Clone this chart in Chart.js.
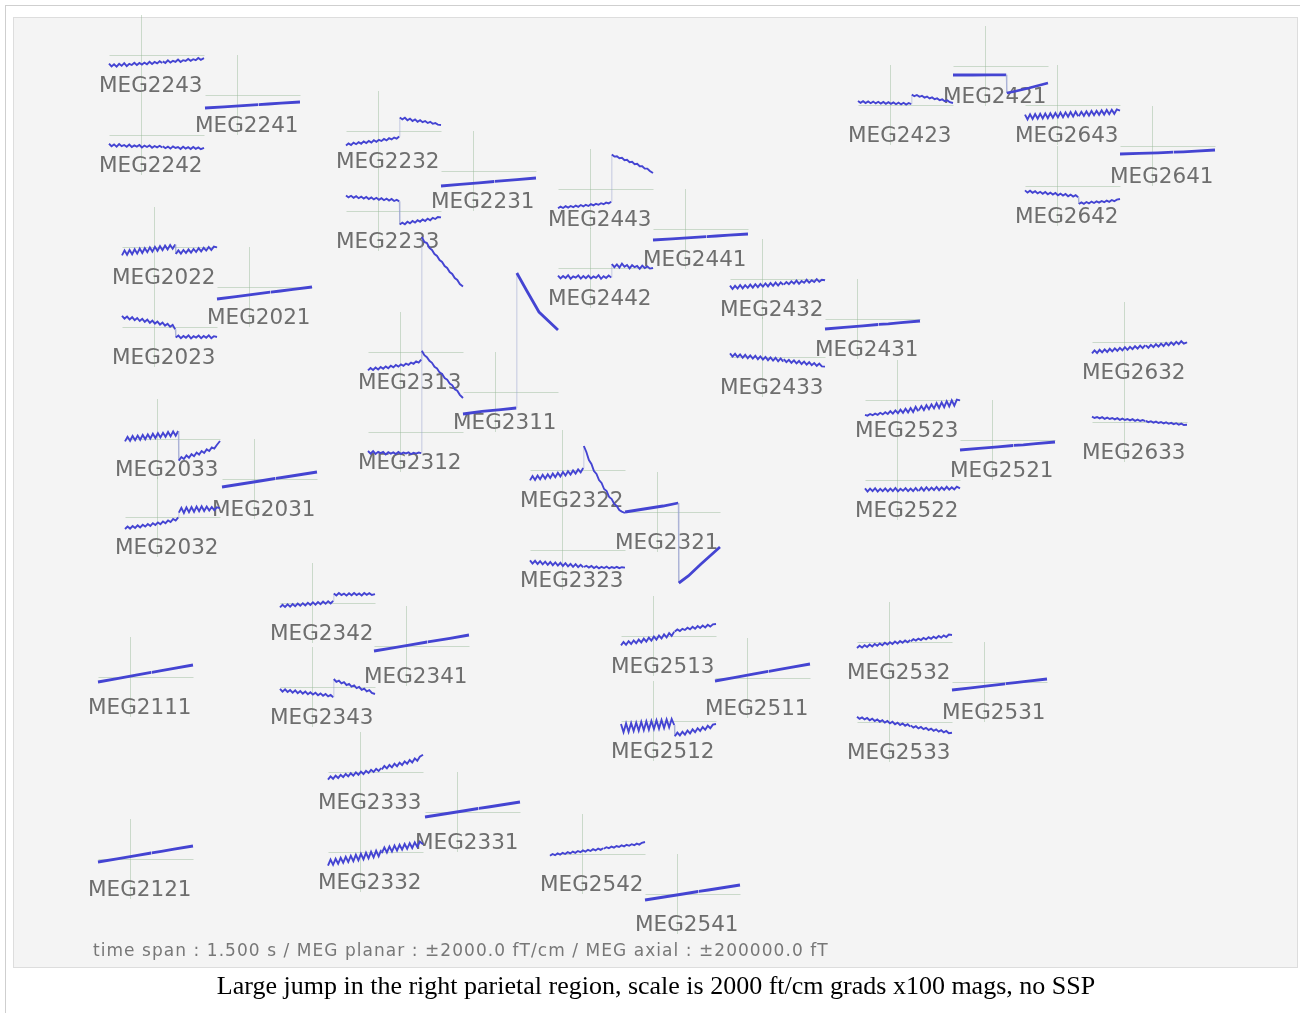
<!DOCTYPE html>
<html>
<head>
<meta charset="utf-8">
<script src="https://cdn.jsdelivr.net/npm/chart.js@4.4.0/dist/chart.umd.min.js"></script>
<style>
  html, body { margin: 0; padding: 0; background: #fff; width: 1300px; height: 1013px; overflow: hidden; }
  #frame { position: absolute; left: 5px; top: 5px; width: 1300px; height: 1010px; border-top: 1px solid #cfcfcf; border-left: 1px solid #cfcfcf; }
  #panel { position: absolute; left: 13px; top: 17px; width: 1283px; height: 949px; background: #f4f4f4; border: 1px solid #dddddd; }
  #foot { position: absolute; left: 93px; top: 940px; font: 17px "DejaVu Sans", sans-serif; letter-spacing: 1.05px; color: #777; white-space: nowrap; }
  #cap { position: absolute; left: 6px; width: 1300px; top: 971px; text-align: center; font: 26px "Liberation Serif", "Times New Roman", serif; color: #000; white-space: nowrap; }
  #topo { position: absolute; left: 0; top: 0; }
</style>
</head>
<body>
<div id="frame"></div>
<div id="panel"></div>
<canvas id="topo" width="1300" height="1013"></canvas>
<div id="foot">time span : 1.500 s / MEG planar : ±2000.0 fT/cm / MEG axial : ±200000.0 fT</div>
<div id="cap">Large jump in the right parietal region, scale is 2000 ft/cm grads x100 mags, no SSP</div>
<script>
// Sample times (s) of the planar gradiometer traces and of the magnetometer traces
const gradTimes = [-0.5,-0.46,-0.42,-0.38,-0.34,-0.3,-0.26,-0.22,-0.18,-0.14,-0.1,-0.06,-0.02,0.02,0.06,0.1,0.14,0.18,0.22,0.26,0.3,0.34,
  0.35,0.39,0.43,0.47,0.51,0.55,0.59,0.63,0.67,0.71,0.75,0.79,0.83,0.87,0.91,0.95,1.0];
const magTimes = [-0.5,-0.2,0.1,0.34,0.35,0.5,0.7,1.0];
const timeMin = -0.5, timeMax = 1.0;

// Display ranges
const gradRange = 2000;     // fT/cm
const magRange = 200000;    // fT

// Sensor layout: left edge and vertical centre of each channel's sub-plot
const layoutNames = ['MEG2243','MEG2241','MEG2242','MEG2232','MEG2231','MEG2233','MEG2443','MEG2441','MEG2442',
  'MEG2432','MEG2431','MEG2433','MEG2423','MEG2421','MEG2643','MEG2641','MEG2642','MEG2022','MEG2021','MEG2023',
  'MEG2033','MEG2031','MEG2032','MEG2313','MEG2311','MEG2312','MEG2322','MEG2321','MEG2323','MEG2632','MEG2633',
  'MEG2523','MEG2521','MEG2522','MEG2342','MEG2341','MEG2343','MEG2513','MEG2511','MEG2512','MEG2532','MEG2531',
  'MEG2533','MEG2333','MEG2331','MEG2332','MEG2542','MEG2541','MEG2111','MEG2121'];
const layoutX = [109,205,109,346,441,346,558,653,558,730,825,730,858,953,1025,1120,1025,122,217,122,
  125,222,125,368,463,368,530,625,530,1092,1092,865,960,865,280,374,280,621,715,621,857,952,
  857,328,425,328,550,645,98,98];
const layoutY = [55,95,135,131,171,211,189,229,268,279,319,357,105,66,105,146,186,247,287,327,
  439,479,517,352,392,432,470,512,550,342,422,400,440,480,603,646,687,636,678,721,642,682,
  722,772,812,852,854,894,677,859];
const layoutWidth = 95, layoutHalfHeight = 40;

// Planar gradiometer signals (fT/cm) at gradTimes
const gradData = {
  MEG2243: [-430,-570,-460,-580,-440,-540,-410,-560,-440,-500,-390,-500,-400,-480,-380,-460,-340,-450,-350,-420,-310,-400,
            -320,-400,-270,-380,-290,-340,-230,-350,-260,-300,-200,-290,-210,-260,-150,-240,-160],
  MEG2242: [-440,-560,-470,-580,-450,-560,-500,-590,-480,-600,-520,-580,-500,-620,-530,-600,-520,-640,-550,-620,-540,-630,
            -560,-660,-580,-680,-570,-650,-600,-700,-590,-680,-610,-700,-600,-690,-620,-710,-640],
  MEG2232: [-720,-620,-700,-580,-660,-560,-640,-520,-600,-500,-580,-460,-540,-440,-500,-400,-470,-360,-420,-330,-380,-280,
            680,580,660,540,620,500,580,460,540,440,500,400,460,360,400,320,300],
  MEG2233: [780,680,760,660,740,640,720,620,700,600,680,580,660,560,640,540,620,520,600,500,560,480,
            -680,-580,-660,-540,-620,-500,-580,-460,-540,-420,-500,-380,-460,-340,-400,-300,-320],
  MEG2443: [-960,-880,-950,-860,-930,-850,-910,-830,-890,-800,-870,-790,-850,-760,-820,-740,-790,-710,-760,-680,-720,-640,
            1720,1620,1640,1540,1560,1440,1460,1340,1360,1240,1260,1140,1140,1020,1020,900,800],
  MEG2442: [-380,-520,-400,-500,-360,-540,-420,-480,-370,-530,-400,-510,-380,-520,-420,-490,-360,-540,-410,-500,-380,-470,
            200,40,180,20,220,60,150,-20,140,40,100,-40,120,0,80,-30,0],
  MEG2432: [-330,-500,-340,-480,-300,-470,-310,-440,-280,-430,-260,-410,-250,-380,-220,-370,-200,-340,-180,-330,-170,-290,
            -280,-150,-260,-120,-230,-80,-240,-100,-190,-40,-180,-60,-150,-10,-140,-40,-60],
  MEG2433: [180,20,160,0,130,-40,110,-60,80,-80,60,-110,30,-130,0,-160,-20,-180,-40,-210,-70,-230,
            -110,-260,-140,-290,-170,-320,-200,-350,-230,-380,-260,-410,-300,-440,-330,-470,-480],
  MEG2423: [200,110,190,100,180,90,170,80,160,70,150,60,140,60,130,40,120,30,110,20,100,40,
            520,440,500,410,460,370,420,330,380,290,330,240,280,190,230,140,100],
  MEG2643: [-480,-720,-470,-700,-450,-690,-440,-670,-430,-660,-410,-640,-400,-620,-380,-610,-370,-590,-350,-580,-340,-560,
            -560,-340,-540,-320,-530,-300,-510,-290,-490,-270,-480,-250,-460,-240,-440,-220,-280],
  MEG2642: [-220,-330,-240,-340,-260,-370,-290,-390,-300,-410,-330,-430,-350,-460,-380,-480,-400,-510,-430,-530,-460,-560,
            -900,-820,-890,-800,-870,-780,-850,-770,-830,-750,-810,-730,-790,-700,-760,-680,-650],
  MEG2022: [-420,-170,-390,-150,-360,-110,-330,-80,-300,-60,-260,-20,-230,10,-190,40,-160,70,-120,100,-90,120,
            -350,-170,-330,-150,-300,-120,-280,-100,-250,-60,-220,-40,-180,0,-150,20,-20],
  MEG2023: [560,420,520,380,490,340,450,300,410,260,370,210,320,170,270,120,220,70,160,10,100,-120,
            -520,-430,-560,-450,-540,-420,-570,-460,-530,-430,-560,-450,-540,-420,-560,-460,-500],
  MEG2033: [-120,110,-90,150,-60,170,-40,200,-10,230,20,260,50,290,80,310,110,350,140,380,160,400,
            -1080,-900,-1000,-820,-940,-760,-860,-680,-780,-600,-700,-520,-600,-420,-480,-300,-100],
  MEG2032: [-600,-480,-580,-450,-550,-420,-520,-390,-480,-350,-450,-310,-400,-270,-360,-220,-310,-170,-250,-100,-180,-20,
            220,460,200,480,240,500,260,520,290,540,300,520,320,500,340,480,440],
  MEG2313: [-920,-800,-900,-780,-870,-750,-840,-720,-810,-690,-770,-650,-730,-620,-690,-580,-640,-530,-590,-470,-530,-380,
            60,-160,-260,-440,-540,-740,-820,-1020,-1100,-1300,-1380,-1580,-1660,-1860,-1940,-2140,-2300],
  MEG2312: [-950,-1080,-960,-1100,-990,-1060,-1000,-1120,-1010,-1080,-1020,-1100,-1000,-1090,-1030,-1070,-1020,-1110,-1040,-1080,-1030,-1060,
            9750,9500,9450,9200,9100,8900,8800,8600,8500,8300,8200,8000,7900,7700,7600,7400,7280],
  MEG2322: [-520,-300,-500,-280,-460,-240,-430,-210,-400,-180,-360,-140,-320,-100,-280,-60,-230,-20,-180,30,-120,100,
            1200,900,500,300,-50,-200,-500,-650,-950,-1050,-1350,-1450,-1700,-1800,-2000,-2080,-2150],
  MEG2323: [-520,-680,-540,-700,-560,-720,-580,-740,-600,-760,-620,-780,-640,-800,-660,-820,-690,-840,-710,-860,-740,-860,
            -850,-790,-880,-800,-900,-820,-920,-840,-900,-830,-920,-850,-900,-840,-910,-860,-880],
  MEG2342: [-220,-90,-200,-70,-180,-50,-160,-30,-140,-10,-120,10,-100,30,-80,50,-60,70,-40,90,-20,110,
            480,380,500,400,470,370,490,390,500,400,480,380,500,410,490,400,440],
  MEG2343: [-90,-230,-120,-250,-150,-280,-170,-310,-200,-330,-230,-360,-260,-380,-290,-410,-320,-440,-350,-470,-400,-510,
            400,260,320,180,240,100,160,20,80,-60,0,-140,-80,-220,-160,-300,-350],
  MEG2513: [-470,-300,-440,-260,-400,-220,-360,-180,-320,-130,-280,-80,-230,-30,-180,20,-120,80,-70,140,0,220,
            230,330,250,360,300,410,330,460,360,500,400,520,430,560,470,580,600],
  MEG2512: [-150,-560,-120,-540,-100,-500,-80,-480,-40,-460,-20,-430,0,-400,30,-380,50,-350,80,-320,100,-200,
            -760,-580,-720,-540,-680,-480,-620,-420,-560,-360,-500,-300,-440,-240,-360,-180,-150],
  MEG2532: [-300,-190,-280,-160,-250,-130,-220,-100,-190,-70,-160,-40,-130,-10,-100,20,-70,50,-40,80,-10,100,
            40,140,70,170,100,200,130,240,160,270,190,300,220,330,250,370,350],
  MEG2533: [260,160,230,130,200,90,170,50,130,10,90,-30,50,-70,10,-110,-30,-150,-70,-190,-110,-230,
            -170,-280,-210,-320,-250,-360,-290,-400,-330,-440,-370,-480,-410,-520,-450,-560,-540],
  MEG2523: [-740,-780,-700,-760,-680,-740,-640,-720,-610,-700,-560,-680,-520,-660,-480,-640,-440,-620,-400,-600,-340,-560,
            -520,-300,-500,-260,-460,-220,-420,-160,-400,-120,-360,-60,-320,-20,-280,20,-20],
  MEG2522: [-420,-580,-430,-560,-410,-580,-440,-560,-420,-570,-430,-550,-400,-570,-440,-540,-410,-560,-430,-550,-400,-560,
            -540,-380,-530,-360,-520,-380,-500,-350,-510,-370,-490,-340,-480,-360,-470,-330,-420],
  MEG2632: [-570,-420,-550,-390,-520,-370,-500,-340,-470,-320,-440,-290,-420,-260,-390,-240,-360,-210,-330,-180,-310,-160,
            -170,-290,-140,-260,-110,-230,-80,-200,-50,-170,-20,-140,10,-110,40,-80,-20],
  MEG2633: [270,200,250,180,240,160,220,150,200,130,190,110,170,100,150,80,140,60,120,50,100,40,
            60,-10,40,-30,20,-50,0,-70,-20,-90,-40,-110,-60,-130,-80,-150,-140],
  MEG2333: [-380,-220,-340,-180,-300,-140,-260,-100,-220,-60,-180,-20,-140,20,-100,60,-50,110,0,160,50,200,
            130,300,180,350,230,410,290,470,350,530,410,600,480,680,560,760,860],
  MEG2332: [-680,-380,-640,-340,-590,-290,-540,-240,-500,-190,-460,-140,-420,-90,-370,-40,-320,10,-270,60,-220,110,
            -60,230,-20,270,20,320,70,360,120,400,160,440,200,480,250,520,380],
  MEG2542: [-90,0,-60,30,-30,60,0,90,30,120,60,150,90,180,120,210,150,240,180,270,210,290,
            260,340,290,370,320,400,350,430,380,460,410,490,440,520,470,560,600]
};

// Magnetometer signals (fT) at magTimes
const magData = {
  MEG2241: [-65000,-59000,-53000,-48000,-47800,-45000,-41000,-35000],
  MEG2231: [-75000,-67000,-59000,-52500,-52000,-48500,-43000,-35000],
  MEG2441: [-55000,-49000,-43000,-38000,-37800,-35000,-31000,-25000],
  MEG2431: [-50000,-42000,-34000,-27500,-27000,-24000,-18500,-10000],
  MEG2421: [-45000,-45000,-44000,-44000,-135000,-125000,-110000,-85000],
  MEG2641: [-40000,-37000,-34000,-31000,-31000,-29000,-26000,-20000],
  MEG2021: [-60000,-48000,-36000,-26000,-25500,-20000,-12000,0],
  MEG2031: [-40000,-25000,-10000,2500,3000,10000,20000,35000],
  MEG2311: [-110000,-97000,-88000,-80000,595000,510000,400000,310000],
  MEG2321: [0,15000,30000,45000,-355000,-320000,-260000,-175000],
  MEG2341: [-25000,-9000,7000,20000,20500,28000,38500,55000],
  MEG2511: [-15000,2000,19000,33000,33500,41500,53000,70000],
  MEG2531: [-40000,-29000,-18000,-9000,-8500,-3500,4000,15000],
  MEG2521: [-50000,-42000,-34000,-27500,-27000,-24000,-18500,-10000],
  MEG2331: [-25000,-10000,5000,17500,18000,25000,35000,50000],
  MEG2541: [-30000,-15000,0,12500,13000,20000,30000,45000],
  MEG2111: [-25000,-8000,9000,23000,23500,31500,43000,60000],
  MEG2121: [-15000,1000,17000,30000,30500,38000,49000,65000]
};

const traceColor = '#4444d2';
const jumpColor = 'rgba(150,160,205,0.5)';
const frameColor = 'rgba(150,185,150,0.45)';
const labelColor = '#6e6e6e';

function toLayoutX(x0, t) {
  return x0 + (t - timeMin) / (timeMax - timeMin) * layoutWidth;
}

// A step between two samples closer than this (layout units) is drawn as a thin jump line
const jumpGap = 1;
const isJump = ctx => Math.abs(ctx.p1.parsed.x - ctx.p0.parsed.x) < jumpGap;

const datasets = layoutNames.map((name, k) => {
  const isMag = name.endsWith('1');
  const times = isMag ? magTimes : gradTimes;
  const values = isMag ? magData[name] : gradData[name];
  const range = isMag ? magRange : gradRange;
  return {
    label: name,
    data: times.map((t, i) => ({
      x: toLayoutX(layoutX[k], t),
      y: layoutY[k] - values[i] / range * layoutHalfHeight
    })),
    showLine: true,
    borderColor: traceColor,
    borderWidth: isMag ? 2.8 : 1.9,
    pointRadius: 0,
    tension: 0,
    segment: {
      borderColor: ctx => isJump(ctx) ? jumpColor : undefined,
      borderWidth: ctx => isJump(ctx) ? 1 : undefined
    }
  };
});

// Zero lines, t = 0 markers and channel names under each trace
const sensorFrames = {
  id: 'sensorFrames',
  beforeDatasetsDraw(chart) {
    const { ctx, scales: { x, y } } = chart;
    ctx.save();
    ctx.strokeStyle = frameColor;
    ctx.lineWidth = 1;
    layoutNames.forEach((name, k) => {
      const x0 = layoutX[k], yc = layoutY[k];
      const xl = Math.round(x.getPixelForValue(x0)) + 0.5;
      const xr = Math.round(x.getPixelForValue(x0 + layoutWidth)) + 0.5;
      const xz = Math.round(x.getPixelForValue(toLayoutX(x0, 0))) + 0.5;
      const yz = Math.round(y.getPixelForValue(yc)) + 0.5;
      const yt = y.getPixelForValue(yc - layoutHalfHeight);
      const yb = y.getPixelForValue(yc + layoutHalfHeight);
      ctx.beginPath();
      ctx.moveTo(xl, yz); ctx.lineTo(xr, yz);
      ctx.moveTo(xz, yt); ctx.lineTo(xz, yb);
      ctx.stroke();
    });
    ctx.fillStyle = labelColor;
    ctx.font = '21.5px "DejaVu Sans"';
    ctx.textBaseline = 'alphabetic';
    ctx.textAlign = 'left';
    layoutNames.forEach((name, k) => {
      const px = x.getPixelForValue(layoutX[k] - 10);
      const py = y.getPixelForValue(layoutY[k] + 37);
      ctx.fillText(name, px, py);
    });
    ctx.restore();
  }
};

new Chart(document.getElementById('topo'), {
  type: 'scatter',
  data: { datasets },
  options: {
    responsive: false,
    animation: false,
    devicePixelRatio: 1,
    layout: { padding: 0 },
    plugins: { legend: { display: false }, tooltip: { enabled: false } },
    scales: {
      x: { type: 'linear', min: 0, max: 1300, display: false },
      y: { type: 'linear', min: 0, max: 1013, reverse: true, display: false }
    }
  },
  plugins: [sensorFrames]
});
</script>
</body>
</html>
